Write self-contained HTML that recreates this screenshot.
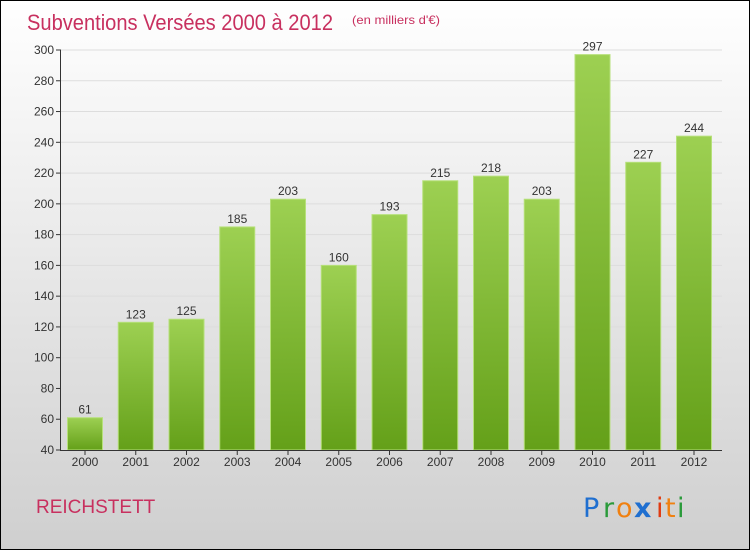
<!DOCTYPE html>
<html><head><meta charset="utf-8"><style>
html,body{margin:0;padding:0;}
body{width:750px;height:550px;overflow:hidden;font-family:"Liberation Sans",sans-serif;}
</style></head><body>
<svg id="chart" width="750" height="550" xmlns="http://www.w3.org/2000/svg">
<defs>
<linearGradient id="bg" x1="0" y1="0" x2="0" y2="1"><stop offset="0" stop-color="#ffffff"/><stop offset="1" stop-color="#cfcfcf"/></linearGradient>
<linearGradient id="bar" x1="0" y1="0" x2="0" y2="1"><stop offset="0" stop-color="#9dd052"/><stop offset="1" stop-color="#64a019"/></linearGradient>
</defs>
<rect x="0.5" y="0.5" width="749" height="549" fill="url(#bg)" stroke="#000"/>
<text x="27" y="30" font-size="22" fill="#c8305f" textLength="306" lengthAdjust="spacingAndGlyphs">Subventions Versées 2000 à 2012</text>
<text x="352" y="24" font-size="12" fill="#c8305f" textLength="88" lengthAdjust="spacingAndGlyphs">(en milliers d'€)</text>
<text x="36" y="513" font-size="19" fill="#c8305f">REICHSTETT</text>
<g font-size="27" font-family="'DejaVu Sans',sans-serif">
<text x="583" y="517" fill="#1f6fd0">P</text><text x="603" y="517" fill="#2a9a3a">r</text><text x="616" y="517" fill="#f08010">o</text><text x="634" y="517" fill="#1f6fd0" font-weight="bold">x</text><text x="656" y="517" fill="#e03a10">i</text><text x="665" y="517" fill="#f08010">t</text><text x="677" y="517" fill="#2a9a3a">i</text>
</g>
<g id="grid"></g><g id="bars"></g><g id="axes"></g>
</svg>
<script>
const categories=["2000","2001","2002","2003","2004","2005","2006","2007","2008","2009","2010","2011","2012"];
const values=[61,123,125,185,203,160,193,215,218,203,297,227,244];
const yTicks=[40,60,80,100,120,140,160,180,200,220,240,260,280,300];
const NS="http://www.w3.org/2000/svg";
const y0=450,y1=50,vmin=40,vmax=300;
function y(v){return y0-(v-vmin)*(y0-y1)/(vmax-vmin);}
function x(i){return 85+i*50.75;}
function mk(t,a,p){const e=document.createElementNS(NS,t);for(const k in a)e.setAttribute(k,a[k]);p.appendChild(e);return e;}
const grid=document.getElementById('grid'),bars=document.getElementById('bars'),axes=document.getElementById('axes');
yTicks.forEach(v=>{
 const g=mk('line',{x1:60,x2:722,y1:y(v),y2:y(v),stroke:'#dddddd'},grid);
 
 
 const t=mk('line',{x1:56,x2:61,y1:y(v),y2:y(v),stroke:'#333'},axes);
 
 
 const l=mk('text',{x:54,y:y(v)+4,'font-size':12,fill:'#333','text-anchor':'end'},axes);
 l.textContent=v;
 
 
});
mk('line',{x1:60.5,x2:60.5,y1:50,y2:450,stroke:'#333'},axes);
mk('line',{x1:60,x2:722,y1:450.5,y2:450.5,stroke:'#333'},axes);
categories.forEach((c,i)=>{
 const v=values[i];
 const r=mk('rect',{x:x(i)-17.5,y:y(v),width:35,height:y0-y(v),fill:'url(#bar)',stroke:'#b6e07a','stroke-width':1},bars);
 
 
 const vl=mk('text',{x:x(i),y:y(v)-4,'font-size':12,fill:'#333','text-anchor':'middle'},bars);
 vl.textContent=v;
 
 
 const tk=mk('line',{x1:x(i),x2:x(i),y1:450,y2:455,stroke:'#333'},axes);
 
 
 const xl=mk('text',{x:x(i),y:466,'font-size':12,fill:'#333','text-anchor':'middle'},axes);
 xl.textContent=c;
 
 
});
</script>
</body></html>
